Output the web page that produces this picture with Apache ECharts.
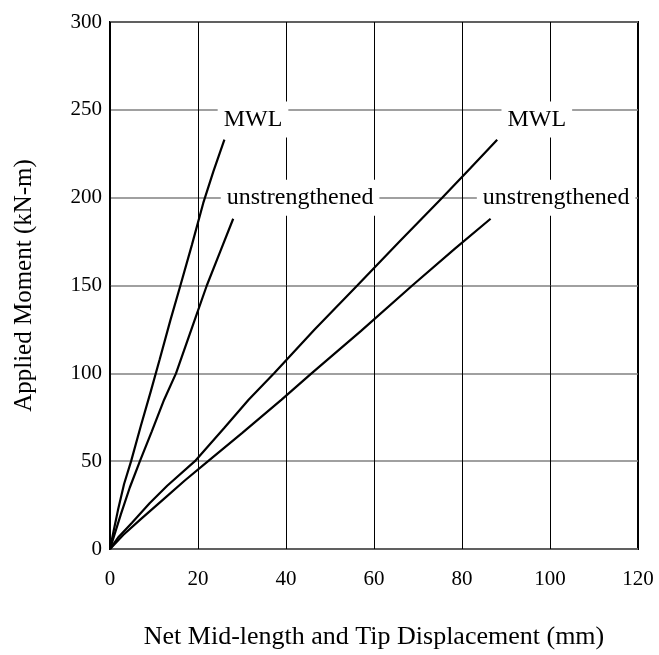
<!DOCTYPE html>
<html>
<head>
<meta charset="utf-8">
<script src="https://cdn.jsdelivr.net/npm/echarts@6/dist/echarts.min.js"></script>
<style>html,body{margin:0;padding:0;background:#fff;}#c{width:659px;height:655px;}</style>
</head>
<body>
<div id="c"></div>
<script>
// Data (x: displacement mm, y: moment kN-m)
const xTicks = [0, 20, 40, 60, 80, 100, 120];
const yTicks = [0, 50, 100, 150, 200, 250, 300];

const mwlMid = [[0,0],[0.8,10],[1.8,22],[3.2,37],[4.8,50],[7,70],[9.3,90],[11.3,108],[13.7,130],[16,150],[18.6,173],[21.2,197],[23.5,215],[26,233]];
const unsMid = [[0,0],[1,8],[2.5,20],[4.5,35],[6.8,50],[9.5,67],[12.3,85],[15,100],[18.5,125],[22,150],[25,169],[28,188]];
const mwlTip = [[0,0],[2,7],[5,15],[9,26],[13,36],[19.3,50],[26,69],[31.5,85],[37.3,100],[46.5,125],[56.2,150],[65.8,175],[75.5,200],[82,217],[88,233]];
const unsTip = [[0,0],[3,8],[7,17],[12,28],[17,39],[22.3,50],[30,66],[39,85],[45.8,100],[57,124],[68.7,150],[78.4,171],[86.5,188]];

const annotations = [
  {text: 'MWL', pos: [32.5, 244.5]},
  {text: 'MWL', pos: [97, 244.5]},
  {text: 'unstrengthened', pos: [43.2, 200]},
  {text: 'unstrengthened', pos: [101.4, 200]}
];

const FONT = '"Liberation Serif", "Times New Roman", serif';
const chart = echarts.init(document.getElementById('c'));

function curve(name, data) {
  return {
    name: name, type: 'line', data: data, symbol: 'none', smooth: false,
    lineStyle: {color: '#000', width: 2.2}, z: 3, silent: true
  };
}

chart.setOption({
  animation: false,
  backgroundColor: '#fff',
  grid: {left: 110, right: 21, top: 22, bottom: 103, show: true, borderColor: '#000', borderWidth: 2, containLabel: false},
  xAxis: {
    type: 'value', min: 0, max: 120, interval: 20,
    name: 'Net Mid-length and Tip Displacement (mm)', nameLocation: 'middle', nameGap: 75,
    nameTextStyle: {fontFamily: FONT, fontSize: 26, color: '#000'},
    axisLine: {show: false}, axisTick: {show: false},
    axisLabel: {fontFamily: FONT, fontSize: 21, color: '#000', margin: 20,
      formatter: v => xTicks.includes(v) ? String(v) : ''},
    splitLine: {show: true, lineStyle: {color: '#000', width: 1}}
  },
  yAxis: {
    type: 'value', min: 0, max: 300, interval: 50,
    name: 'Applied Moment (kN-m)', nameLocation: 'middle', nameGap: 73, nameRotate: 90,
    nameTextStyle: {fontFamily: FONT, fontSize: 25, color: '#000'},
    axisLine: {show: false}, axisTick: {show: false},
    axisLabel: {fontFamily: FONT, fontSize: 21, color: '#000', margin: 8,
      formatter: v => yTicks.includes(v) ? String(v) : ''},
    splitLine: {show: true, lineStyle: {color: '#808080', width: 1.5}}
  },
  series: [
    curve('MWL mid-length', mwlMid),
    curve('Unstrengthened mid-length', unsMid),
    curve('MWL tip', mwlTip),
    curve('Unstrengthened tip', unsTip),
    {
      type: 'scatter', symbolSize: 0, z: 5, silent: true,
      itemStyle: {opacity: 1},
      data: annotations.map(a => ({value: a.pos, name: a.text})),
      label: {
        show: true, position: 'inside', formatter: p => p.name,
        fontFamily: FONT, fontSize: 24, color: '#000',
        backgroundColor: '#fff', padding: [6, 6, 6, 6]
      }
    }
  ]
});
</script>
</body>
</html>
